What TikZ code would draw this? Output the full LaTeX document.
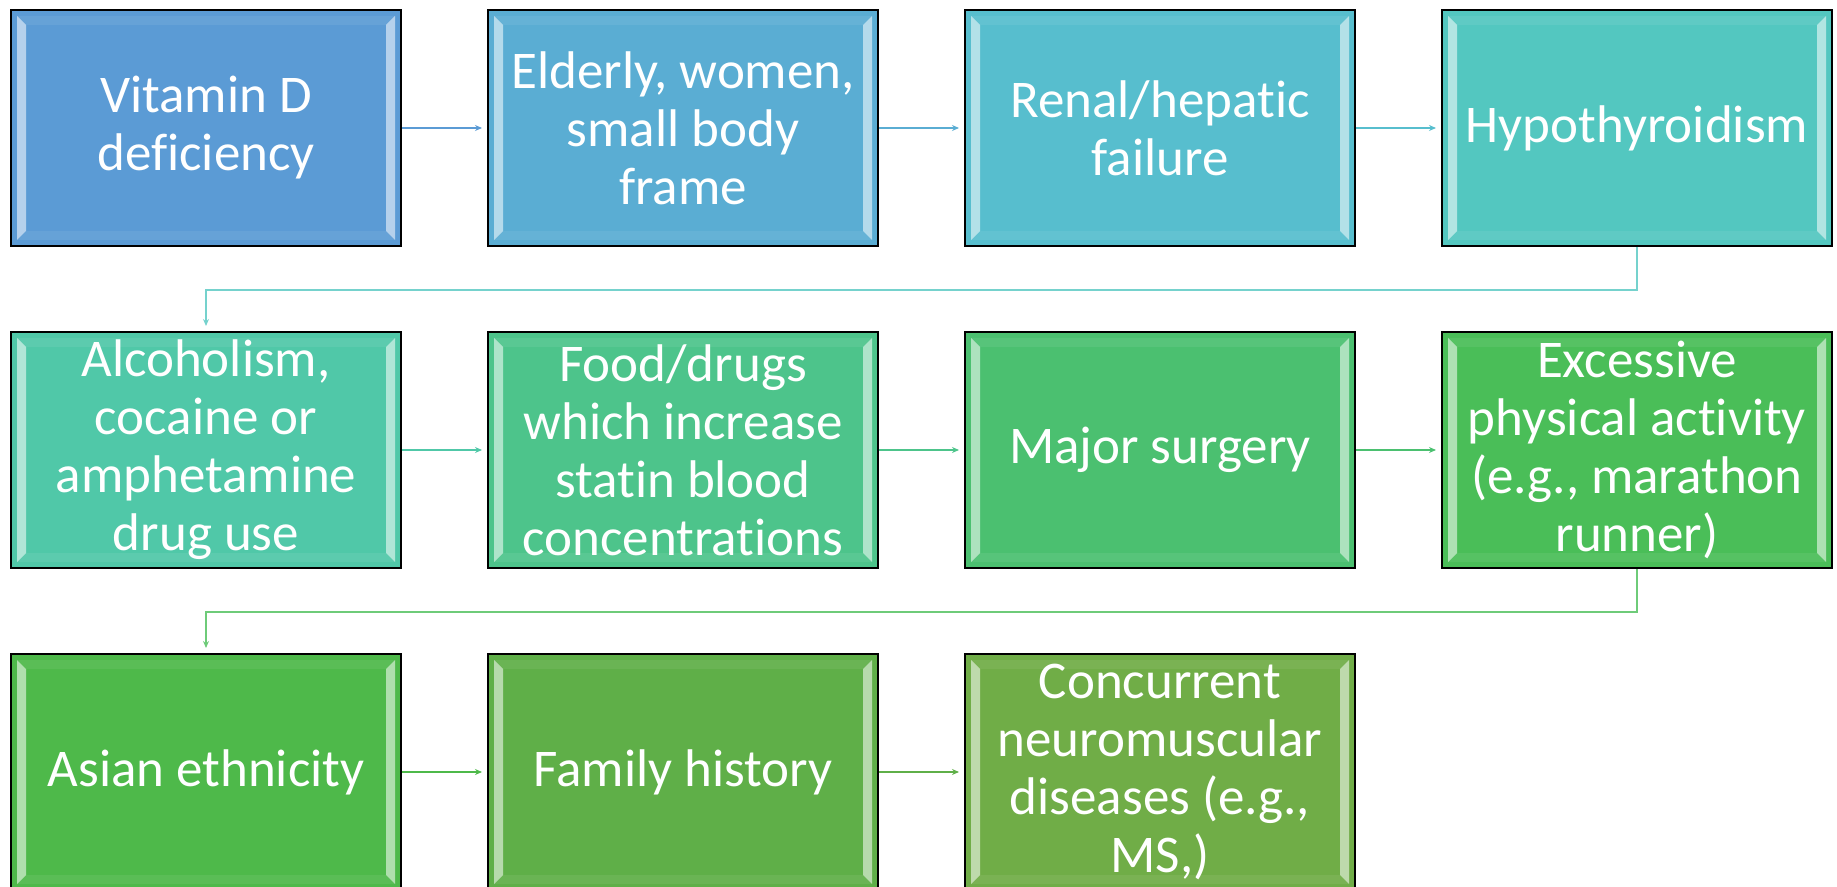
\documentclass[tikz,border=0pt]{standalone}
\usepackage{fontspec}
\setmainfont{Carlito}[Ligatures={NoCommon,NoRequired,NoContextual}]
\usetikzlibrary{arrows.meta}
\definecolor{c1}{HTML}{5B9BD5}
\definecolor{c2}{HTML}{5AADD3}
\definecolor{c3}{HTML}{57BECE}
\definecolor{c4}{HTML}{53C7C0}
\definecolor{c5}{HTML}{50C8A8}
\definecolor{c6}{HTML}{4DC48B}
\definecolor{c7}{HTML}{4BC070}
\definecolor{c8}{HTML}{4ABE58}
\definecolor{c9}{HTML}{4EB94A}
\definecolor{c10}{HTML}{5FAF48}
\definecolor{c11}{HTML}{70AD47}
\tikzset{
  box/.style={draw=black, line width=1pt, minimum width=195pt, minimum height=118pt,
    inner sep=0pt, text=white, align=center,
    font=\fontsize{26.5}{29}\selectfont,
    path picture={
      \fill[white,opacity=0.07]
        ([shift={(3pt,-3pt)}]path picture bounding box.north west) --
        ([shift={(-3pt,-3pt)}]path picture bounding box.north east) --
        ([shift={(-7.5pt,-7.5pt)}]path picture bounding box.north east) --
        ([shift={(7.5pt,-7.5pt)}]path picture bounding box.north west) -- cycle;
      \fill[white,opacity=0.07]
        ([shift={(3pt,3pt)}]path picture bounding box.south west) --
        ([shift={(-3pt,3pt)}]path picture bounding box.south east) --
        ([shift={(-7.5pt,7.5pt)}]path picture bounding box.south east) --
        ([shift={(7.5pt,7.5pt)}]path picture bounding box.south west) -- cycle;
      \fill[white,opacity=0.55]
        ([shift={(3pt,-3pt)}]path picture bounding box.north west) --
        ([shift={(7.5pt,-7.5pt)}]path picture bounding box.north west) --
        ([shift={(7.5pt,7.5pt)}]path picture bounding box.south west) --
        ([shift={(3pt,3pt)}]path picture bounding box.south west) -- cycle;
      \fill[white,opacity=0.55]
        ([shift={(-3pt,-3pt)}]path picture bounding box.north east) --
        ([shift={(-7.5pt,-7.5pt)}]path picture bounding box.north east) --
        ([shift={(-7.5pt,7.5pt)}]path picture bounding box.south east) --
        ([shift={(-3pt,3pt)}]path picture bounding box.south east) -- cycle;
    }},
  arr/.style={-{Stealth[length=3.5pt,width=3pt]}, line width=0.75pt, shorten >=2.5pt}
}
\begin{document}
\begin{tikzpicture}[x=0.5pt,y=-0.5pt]
\useasboundingbox (0,0) rectangle (1837,887);
\clip (0,0) rectangle (1837,887);
% row 1
\node[box, fill=c1] (b1) at (206,128) {Vitamin D\\deficiency};
\node[box, fill=c2] (b2) at (683,128) {Elderly, women,\\small body\\frame};
\node[box, fill=c3] (b3) at (1160,128) {Renal/hepatic\\failure};
\node[box, fill=c4] (b4) at (1637,128) {Hypothyroidism};
% row 2
\node[box, fill=c5] (b5) at (206,450) {Alcoholism,\\cocaine or\\amphetamine\\drug use};
\node[box, fill=c6] (b6) at (683,450) {Food/drugs\\which increase\\statin blood\\concentrations};
\node[box, fill=c7] (b7) at (1160,450) {Major surgery};
\node[box, fill=c8] (b8) at (1637,450) {Excessive\\physical activity\\(e.g., marathon\\runner)};
% row 3
\node[box, fill=c9] (b9) at (206,772) {Asian ethnicity};
\node[box, fill=c10] (b10) at (683,772) {Family history};
\node[box, fill=c11] (b11) at (1160,772) {Concurrent\\neuromuscular\\diseases (e.g.,\\MS,)};
% connectors
\draw[arr, c1] (b1.east) -- (b2.west);
\draw[arr, c2] (b2.east) -- (b3.west);
\draw[arr, c3] (b3.east) -- (b4.west);
\draw[arr, c4!80] (b4.south) -- ++(0,43) -| (b5.north);
\draw[arr, c5] (b5.east) -- (b6.west);
\draw[arr, c6] (b6.east) -- (b7.west);
\draw[arr, c7] (b7.east) -- (b8.west);
\draw[arr, c8!80] (b8.south) -- ++(0,43) -| (b9.north);
\draw[arr, c9] (b9.east) -- (b10.west);
\draw[arr, c10] (b10.east) -- (b11.west);
\end{tikzpicture}
\end{document}
